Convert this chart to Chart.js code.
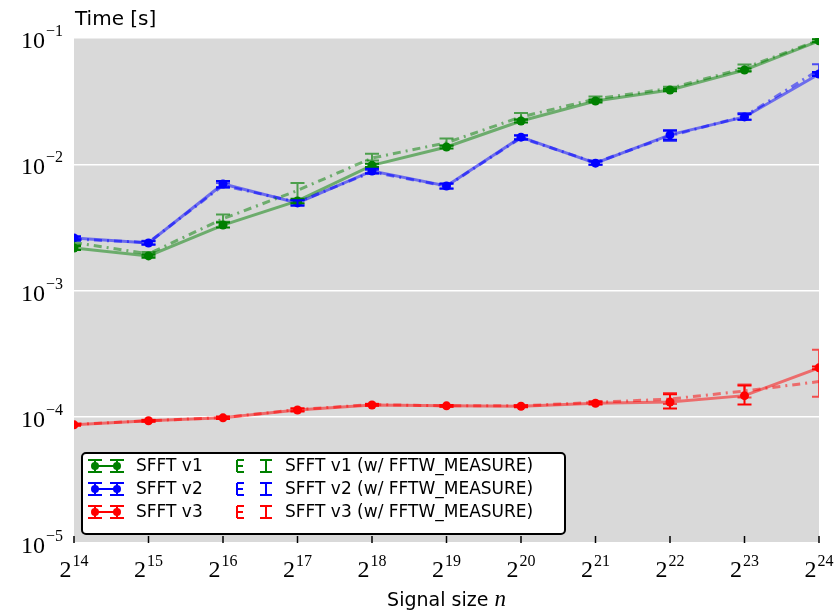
<!DOCTYPE html>
<html>
<head>
<meta charset="utf-8">
<script src="https://cdn.jsdelivr.net/npm/chart.js@4.4.1/dist/chart.umd.min.js"></script>
<style>
  html, body { margin: 0; padding: 0; background: #fff; }
  #wrap { width: 835px; height: 614px; }
</style>
</head>
<body>
<div id="wrap"><canvas id="timing" width="835" height="614"></canvas></div>
<script>
// signal size exponents (n = 2^k)
const sizes = [14, 15, 16, 17, 18, 19, 20, 21, 22, 23, 24];
const xExponents = ['14', '15', '16', '17', '18', '19', '20', '21', '22', '23', '24'];
const yTicks = [1e-5, 1e-4, 1e-3, 1e-2, 1e-1];
const yExponents = ['\u22125', '\u22124', '\u22123', '\u22122', '\u22121'];

// run times in seconds
const v1 = [2.17e-3, 1.88e-3, 3.30e-3, 5.12e-3, 9.8e-3, 1.37e-2, 2.20e-2, 3.17e-2, 3.87e-2, 5.58e-2, 9.5e-2];
const v1Lo = [0.08e-3, 0.06e-3, 0.15e-3, 0.2e-3, 0.3e-3, 0.4e-3, 0.6e-3, 0.8e-3, 0.9e-3, 1.5e-3, 2.5e-3];
const v1Hi = [0.08e-3, 0.06e-3, 0.15e-3, 0.2e-3, 0.3e-3, 0.4e-3, 0.6e-3, 0.8e-3, 0.9e-3, 1.5e-3, 2.5e-3];

const v2 = [2.61e-3, 2.38e-3, 6.98e-3, 4.94e-3, 8.85e-3, 6.73e-3, 1.64e-2, 1.02e-2, 1.71e-2, 2.37e-2, 5.19e-2];
const v2Lo = [0.08e-3, 0.08e-3, 0.4e-3, 0.25e-3, 0.35e-3, 0.3e-3, 0.6e-3, 0.3e-3, 1.5e-3, 1.2e-3, 2e-3];
const v2Hi = [0.08e-3, 0.08e-3, 0.4e-3, 0.25e-3, 0.35e-3, 0.3e-3, 0.6e-3, 0.3e-3, 1.5e-3, 1.2e-3, 2e-3];

const v3 = [8.63e-5, 9.29e-5, 9.8e-5, 1.13e-4, 1.24e-4, 1.22e-4, 1.21e-4, 1.28e-4, 1.31e-4, 1.47e-4, 2.44e-4];
const v3Lo = [1.5e-6, 1.5e-6, 2e-6, 3e-6, 2e-6, 2e-6, 2e-6, 3e-6, 1.5e-5, 2.2e-5, 6e-6];
const v3Hi = [1.5e-6, 1.5e-6, 2e-6, 3e-6, 2e-6, 2e-6, 2e-6, 3e-6, 2e-5, 3e-5, 6e-6];

// same runs with FFTW_MEASURE plans
const v1m = [2.40e-3, 1.95e-3, 3.7e-3, 6.2e-3, 1.12e-2, 1.48e-2, 2.37e-2, 3.29e-2, 3.99e-2, 5.78e-2, 9.6e-2];
const v1mLo = [0.1e-3, 0.07e-3, 0.2e-3, 1.0e-3, 0.5e-3, 0.8e-3, 1.2e-3, 1.2e-3, 1.2e-3, 3e-3, 3e-3];
const v1mHi = [0.1e-3, 0.07e-3, 0.3e-3, 0.9e-3, 0.9e-3, 1.2e-3, 1.8e-3, 1.5e-3, 1.2e-3, 4e-3, 3e-3];

const v2m = [2.55e-3, 2.40e-3, 6.8e-3, 5.0e-3, 8.7e-3, 6.7e-3, 1.62e-2, 1.03e-2, 1.68e-2, 2.4e-2, 5.6e-2];
const v2mLo = [0.08e-3, 0.08e-3, 0.3e-3, 0.2e-3, 0.3e-3, 0.3e-3, 0.6e-3, 0.4e-3, 1.5e-3, 1.5e-3, 4e-3];
const v2mHi = [0.08e-3, 0.08e-3, 0.3e-3, 0.2e-3, 0.3e-3, 0.3e-3, 0.6e-3, 0.4e-3, 1.5e-3, 1.5e-3, 6e-3];

const v3m = [8.7e-5, 9.3e-5, 9.85e-5, 1.14e-4, 1.25e-4, 1.22e-4, 1.22e-4, 1.30e-4, 1.38e-4, 1.60e-4, 1.90e-4];
const v3mLo = [1.5e-6, 1.5e-6, 2e-6, 3e-6, 2e-6, 2e-6, 2e-6, 3e-6, 1.2e-5, 1.8e-5, 4.6e-5];
const v3mHi = [1.5e-6, 1.5e-6, 2e-6, 3e-6, 2e-6, 2e-6, 2e-6, 3e-6, 1.6e-5, 2.0e-5, 1.49e-4];

const GREEN = '#008000', BLUE = '#0000ff', RED = '#ff0000';
const DASHDOT = [8, 5, 2, 5];

function pts(vals) {
    return sizes.map((k, i) => ({ x: k, y: vals[i] }));
}

function fade(hex, a) {
    const n = parseInt(hex.slice(1), 16);
    return `rgba(${n >> 16},${(n >> 8) & 255},${n & 255},${a})`;
}

function series(label, vals, lo, hi, color, measure) {
    return {
        label: label,
        data: pts(vals),
        errLo: lo,
        errHi: hi,
        measure: measure,
        baseColor: color,
        borderColor: fade(color, 0.5),
        borderWidth: 3,
        borderDash: measure ? DASHDOT : [],
        pointRadius: measure ? 0 : 4.5,
        pointBackgroundColor: color,
        pointBorderColor: color,
        pointBorderWidth: 0,
        tension: 0,
        fill: false
    };
}

const datasets = [
    series('SFFT v1 (w/ FFTW_MEASURE)', v1m, v1mLo, v1mHi, GREEN, true),
    series('SFFT v2 (w/ FFTW_MEASURE)', v2m, v2mLo, v2mHi, BLUE, true),
    series('SFFT v3 (w/ FFTW_MEASURE)', v3m, v3mLo, v3mHi, RED, true),
    series('SFFT v1', v1, v1Lo, v1Hi, GREEN, false),
    series('SFFT v2', v2, v2Lo, v2Hi, BLUE, false),
    series('SFFT v3', v3, v3Lo, v3Hi, RED, false)
];

// gray axes background
const plotBg = {
    id: 'plotBg',
    beforeDraw(chart) {
        const { ctx, chartArea: a } = chart;
        ctx.save();
        ctx.fillStyle = '#d9d9d9';
        ctx.fillRect(a.left, a.top, a.right - a.left, a.bottom - a.top);
        ctx.restore();
    }
};

function vbar(ctx, x, yTop, yBot, cap) {
    ctx.beginPath();
    ctx.moveTo(x, yTop); ctx.lineTo(x, yBot);
    ctx.moveTo(x - cap, yTop); ctx.lineTo(x + cap, yTop);
    ctx.moveTo(x - cap, yBot); ctx.lineTo(x + cap, yBot);
    ctx.stroke();
}

// error bars, clipped to the axes
const errorBars = {
    id: 'errorBars',
    afterDatasetsDraw(chart) {
        const { ctx, chartArea: a, scales: { x, y } } = chart;
        ctx.save();
        ctx.beginPath();
        ctx.rect(a.left, a.top, a.right - a.left, a.bottom - a.top);
        ctx.clip();
        ctx.lineWidth = 2;
        chart.data.datasets.forEach(ds => {
            ctx.strokeStyle = ds.measure ? fade(ds.baseColor, 0.65) : ds.baseColor;
            ds.data.forEach((p, i) => {
                const px = x.getPixelForValue(p.x);
                const top = y.getPixelForValue(p.y + ds.errHi[i]);
                const bot = y.getPixelForValue(p.y - ds.errLo[i]);
                vbar(ctx, px, top, bot, 7);
            });
        });
        ctx.restore();
    }
};

function powerLabel(ctx, base, exp, x, yBase, yExp, align, bSize, eSize) {
    ctx.font = `${bSize}px "Liberation Serif"`;
    const bw = ctx.measureText(base).width;
    ctx.font = `${eSize}px "Liberation Serif"`;
    const ew = ctx.measureText(exp).width;
    const w = bw + 1 + ew;
    let x0 = align === 'right' ? x - w : x - w / 2;
    ctx.textAlign = 'left';
    ctx.textBaseline = 'alphabetic';
    ctx.font = `${bSize}px "Liberation Serif"`;
    ctx.fillText(base, x0, yBase);
    ctx.font = `${eSize}px "Liberation Serif"`;
    ctx.fillText(exp, x0 + bw + 1, yExp);
}

// tick marks, tick labels, axis titles and legend
const decorations = {
    id: 'decorations',
    afterDraw(chart) {
        const { ctx, chartArea: a, scales: { x, y } } = chart;
        ctx.save();
        ctx.fillStyle = '#000';
        ctx.strokeStyle = '#000';
        ctx.lineWidth = 1.5;

        sizes.forEach((k, i) => {
            const px = x.getPixelForValue(k);
            ctx.beginPath();
            ctx.moveTo(px, a.bottom);
            ctx.lineTo(px, a.bottom - 7);
            ctx.stroke();
            powerLabel(ctx, '2', xExponents[i], px, a.bottom + 34, a.bottom + 23, 'center', 24, 16);
        });

        yTicks.forEach((v, i) => {
            const py = y.getPixelForValue(v);
            powerLabel(ctx, '10', yExponents[i], a.left - 11, py + 10, py - 2, 'right', 24, 16);
        });

        ctx.textAlign = 'left';
        ctx.textBaseline = 'alphabetic';
        ctx.font = '20px "DejaVu Sans"';
        ctx.fillText('Time [s]', a.left + 1, 25);

        ctx.font = '19px "DejaVu Sans"';
        const t1 = 'Signal size ';
        const w1 = ctx.measureText(t1).width;
        ctx.font = 'italic 23px "Liberation Serif"';
        const w2 = ctx.measureText('n').width;
        const cx = (a.left + a.right) / 2;
        const sx = cx - (w1 + w2) / 2;
        ctx.font = '19px "DejaVu Sans"';
        ctx.fillText(t1, sx, 606);
        ctx.font = 'italic 23px "Liberation Serif"';
        ctx.fillText('n', sx + w1, 606);

        drawLegend(ctx, chart);
        ctx.restore();
    }
};

function drawLegend(ctx, chart) {
    const bx = 82, by = 453, bw = 483, bh = 81;
    ctx.save();
    ctx.fillStyle = '#fff';
    ctx.strokeStyle = '#000';
    ctx.lineWidth = 2;
    ctx.beginPath();
    ctx.roundRect(bx, by, bw, bh, 4);
    ctx.fill();
    ctx.stroke();

    const rows = [466, 489, 512];
    const ds = chart.data.datasets;
    ctx.font = '17px "DejaVu Sans"';
    ctx.textBaseline = 'middle';
    ctx.lineWidth = 2;
    for (let r = 0; r < 3; r++) {
        const solid = ds[3 + r], meas = ds[r];
        const y0 = rows[r];
        // solid series handle
        ctx.strokeStyle = solid.baseColor;
        ctx.fillStyle = solid.baseColor;
        ctx.beginPath();
        ctx.moveTo(95, y0); ctx.lineTo(117, y0);
        ctx.stroke();
        [95, 117].forEach(hx => {
            vbar(ctx, hx, y0 - 6, y0 + 6, 7);
            ctx.beginPath();
            ctx.arc(hx, y0, 4, 0, Math.PI * 2);
            ctx.fill();
        });
        ctx.fillStyle = '#000';
        ctx.fillText(solid.label, 136, y0 + 1);

        // measure series handle
        ctx.strokeStyle = meas.baseColor;
        ctx.beginPath();
        ctx.moveTo(237, y0 - 6); ctx.lineTo(237, y0 + 6);
        ctx.moveTo(237, y0 - 6); ctx.lineTo(244, y0 - 6);
        ctx.moveTo(237, y0 + 6); ctx.lineTo(244, y0 + 6);
        ctx.moveTo(237, y0); ctx.lineTo(243, y0);
        ctx.stroke();
        vbar(ctx, 266, y0 - 6, y0 + 6, 6);
        ctx.fillStyle = '#000';
        ctx.fillText(meas.label, 285, y0 + 1);
    }
    ctx.restore();
}

new Chart(document.getElementById('timing'), {
    type: 'line',
    data: { datasets: datasets },
    options: {
        responsive: false,
        animation: false,
        devicePixelRatio: 1,
        layout: { padding: { left: 74, top: 38, right: 16, bottom: 71 } },
        plugins: {
            legend: { display: false },
            tooltip: { enabled: false }
        },
        scales: {
            x: {
                type: 'linear',
                min: 14,
                max: 24,
                afterFit: scale => { scale.height = 0; },
                ticks: { display: false },
                grid: { display: false },
                border: { display: false }
            },
            y: {
                type: 'logarithmic',
                min: 1e-5,
                max: 1e-1,
                afterFit: scale => { scale.width = 0; },
                afterBuildTicks: scale => { scale.ticks = yTicks.map(v => ({ value: v })); },
                ticks: { display: false },
                grid: { color: '#ffffff', lineWidth: 1.5, drawTicks: false },
                border: { display: false }
            }
        }
    },
    plugins: [plotBg, errorBars, decorations]
});
</script>
</body>
</html>
